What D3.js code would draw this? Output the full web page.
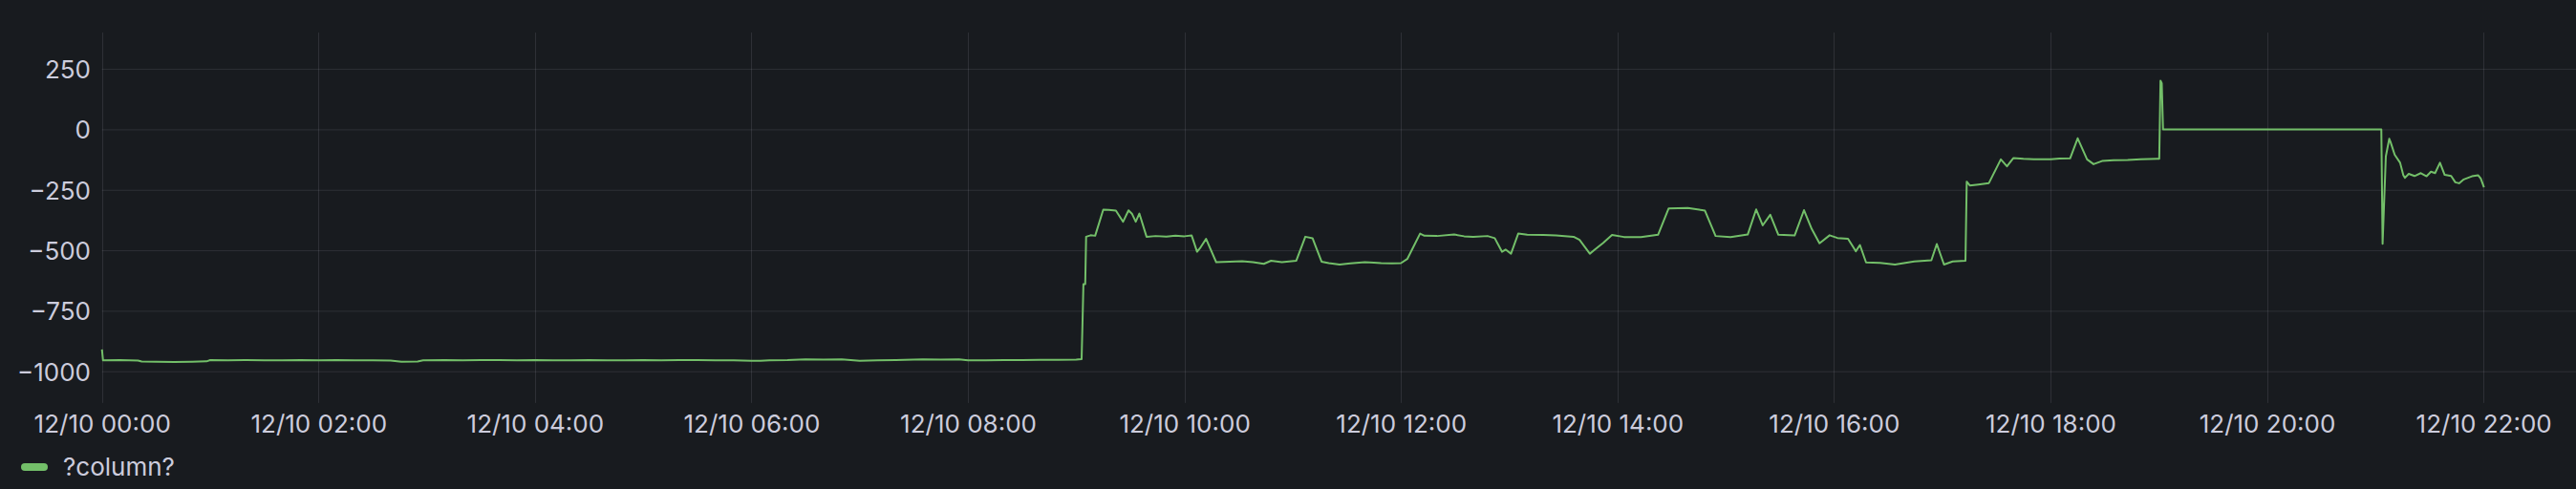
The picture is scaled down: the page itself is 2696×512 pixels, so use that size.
<!DOCTYPE html>
<html>
<head>
<meta charset="utf-8">
<script src="https://cdn.jsdelivr.net/npm/d3@7"></script>
<style>
  html, body { margin: 0; padding: 0; background: #181b1f; }
  svg { display: block; }
  text { font-family: Inter, "Noto Sans", sans-serif; }
</style>
</head>
<body>
<svg id="chart" width="2696" height="512"></svg>
<script>
// ---- data (minutes since 12/10 00:00, value) ----
const seriesName = "?column?";
const minutes = [
  0, 0.6, 10, 20, 22, 30, 40, 50, 58, 60, 70, 80, 90, 100, 110, 120, 130, 140, 150, 160,
  166, 175, 178, 190, 200, 210, 220, 230, 240, 250, 260, 270, 280, 290, 300, 310, 320, 330, 340, 350,
  360, 365, 370, 380, 390, 400, 410, 420, 430, 440, 455, 465, 475, 480, 490, 500, 510, 520, 530, 540,
  543, 543.5, 544, 545, 545.5, 548, 550.5, 555, 558, 562, 566, 569, 571, 573, 575, 579, 584, 590, 595, 600,
  604, 607, 609, 612, 617.6, 625, 632, 638, 644, 648, 654, 658, 662, 667, 671, 676, 680, 686, 692, 700,
  705, 709, 715, 720, 723.5, 730.6, 733, 740, 749.5, 755, 760, 768, 772, 776, 778, 781, 785, 790, 799, 806,
  815.7, 819, 824.7, 827.5, 832, 837, 843.6, 853, 862.5, 868.4, 879, 888.5, 894.4, 902.7, 912.2, 916.9, 920.5, 924.7, 929.2, 938.2,
  943.4, 947.7, 952, 957.6, 961.9, 967.8, 972.1, 974.4, 977.8, 985.6, 993.8, 1004.5, 1014, 1017, 1021, 1025.8, 1032.9, 1033.6, 1035.3, 1040,
  1045.9, 1052.5, 1055.9, 1059.4, 1065, 1070.8, 1080.2, 1085, 1090.9, 1095.1, 1100.3, 1103.9, 1108.6, 1115, 1122.8, 1130, 1139.4, 1140.3, 1141, 1141.7,
  1142.4, 1263.4, 1264.1, 1265.9, 1267.8, 1268.5, 1270.8, 1273.8, 1275.6, 1276.5, 1278.6, 1281.8, 1285.3, 1288.5, 1290.9, 1293.2, 1295.9, 1298.5, 1302.1, 1304.4,
  1306.5, 1309.1, 1313.6, 1317.1, 1318.5, 1320.3
];
const values = [
  -910, -955, -954, -956, -960, -961, -962, -961, -959, -954, -955, -954, -955, -955, -954, -955, -954, -955, -955, -956,
  -961, -960, -955, -954, -955, -954, -954, -955, -954, -955, -955, -954, -955, -955, -954, -955, -954, -954, -955, -955,
  -957, -957, -955, -954, -951, -952, -951, -957, -955, -954, -951, -952, -951, -955, -955, -954, -954, -953, -953, -952,
  -950, -800, -640, -640, -444, -438, -440, -332, -333, -336, -382, -335, -350, -382, -348, -444, -441, -443, -440, -442,
  -439, -506, -487, -453, -549, -547, -545, -549, -556, -543, -549, -546, -543, -444, -450, -547, -553, -559, -554, -549,
  -551, -553, -554, -553, -536, -431, -440, -441, -435, -442, -444, -441, -450, -506, -497, -514, -431, -436, -437, -439,
  -444, -457, -514, -497, -470, -437, -445, -445, -436, -327, -325, -336, -441, -445, -435, -331, -397, -353, -436, -439,
  -334, -412, -471, -438, -449, -452, -504, -478, -550, -552, -559, -546, -541, -474, -559, -546, -543, -216, -232, -228,
  -222, -124, -153, -119, -122, -124, -124, -121, -120, -37, -124, -144, -131, -128, -127, -124, -122, -122, 201, 190,
  0, 0, -473, -112, -39, -52, -105, -138, -190, -200, -184, -193, -181, -194, -175, -181, -138, -188, -193, -219,
  -223, -207, -194, -190, -203, -240
];
const yTicks = [-1000, -750, -500, -250, 0, 250];
const xTickHours = [0, 2, 4, 6, 8, 10, 12, 14, 16, 18, 20, 22];
const yDomain = [-1131, 400];
const xDomainMinutes = [0, 1371.3];

// ---- layout ----
const W = 2696, H = 512;
const plotLeft = 106.7, plotRight = 2696, plotTop = 34.1, plotBottom = 421.9;
const lineColor = "#73bf69", textColor = "#ccccdc", gridColor = "rgba(204,204,220,0.12)";

const t0 = Date.UTC(2023, 11, 10, 0, 0, 0);
const toDate = m => new Date(t0 + m * 60000);
const data = minutes.map((m, i) => ({ t: toDate(m), v: values[i] }));

const x = d3.scaleUtc().domain(xDomainMinutes.map(toDate)).range([plotLeft, plotRight]);
const y = d3.scaleLinear().domain(yDomain).range([plotBottom, plotTop]);

const svg = d3.select("#chart");
svg.append("rect").attr("width", W).attr("height", H).attr("fill", "#181b1f");

const xTicks = xTickHours.map(h => toDate(h * 60));
const fmt = d3.utcFormat("%m/%d %H:%M");

// grid
const grid = svg.append("g");
grid.selectAll("line.h").data(yTicks).join("line")
  .attr("x1", plotLeft).attr("x2", plotRight)
  .attr("y1", d => y(d) + 0.5).attr("y2", d => y(d) + 0.5)
  .attr("stroke", gridColor).attr("stroke-width", 1);
grid.selectAll("line.v").data(xTicks).join("line")
  .attr("x1", d => Math.round(x(d)) + 0.5).attr("x2", d => Math.round(x(d)) + 0.5)
  .attr("y1", plotTop).attr("y2", plotBottom)
  .attr("stroke", gridColor).attr("stroke-width", 1);

// y axis labels
const yAxis = d3.axisLeft(y).tickValues(yTicks).tickSize(0).tickPadding(0).tickFormat(d3.format("d"));
const gy = svg.append("g").attr("transform", `translate(95,0)`).call(yAxis);
gy.select(".domain").remove();
gy.selectAll("text").attr("fill", textColor).attr("font-size", 26).attr("font-family", "Inter")
  .attr("dy", "0.36em").attr("x", 0);

// x axis labels
const xAxis = d3.axisBottom(x).tickValues(xTicks).tickSize(0).tickPadding(0).tickFormat(fmt);
const gx = svg.append("g").attr("transform", `translate(0,452.7)`).call(xAxis);
gx.select(".domain").remove();
gx.selectAll("text").attr("fill", textColor).attr("font-size", 26).attr("font-family", "Inter")
  .attr("dy", 0).attr("y", 0);

// line
const line = d3.line().x(d => x(d.t)).y(d => y(d.v));
svg.append("path").datum(data)
  .attr("fill", "none").attr("stroke", lineColor).attr("stroke-width", 2)
  .attr("stroke-linejoin", "round").attr("d", line);

// legend
const lg = svg.append("g");
lg.append("rect").attr("x", 22).attr("y", 485).attr("width", 28).attr("height", 8)
  .attr("rx", 4).attr("fill", lineColor);
lg.append("text").attr("x", 66).attr("y", 498.3).attr("fill", textColor)
  .attr("font-size", 26).attr("font-family", "Inter").text(seriesName);
</script>
</body>
</html>
